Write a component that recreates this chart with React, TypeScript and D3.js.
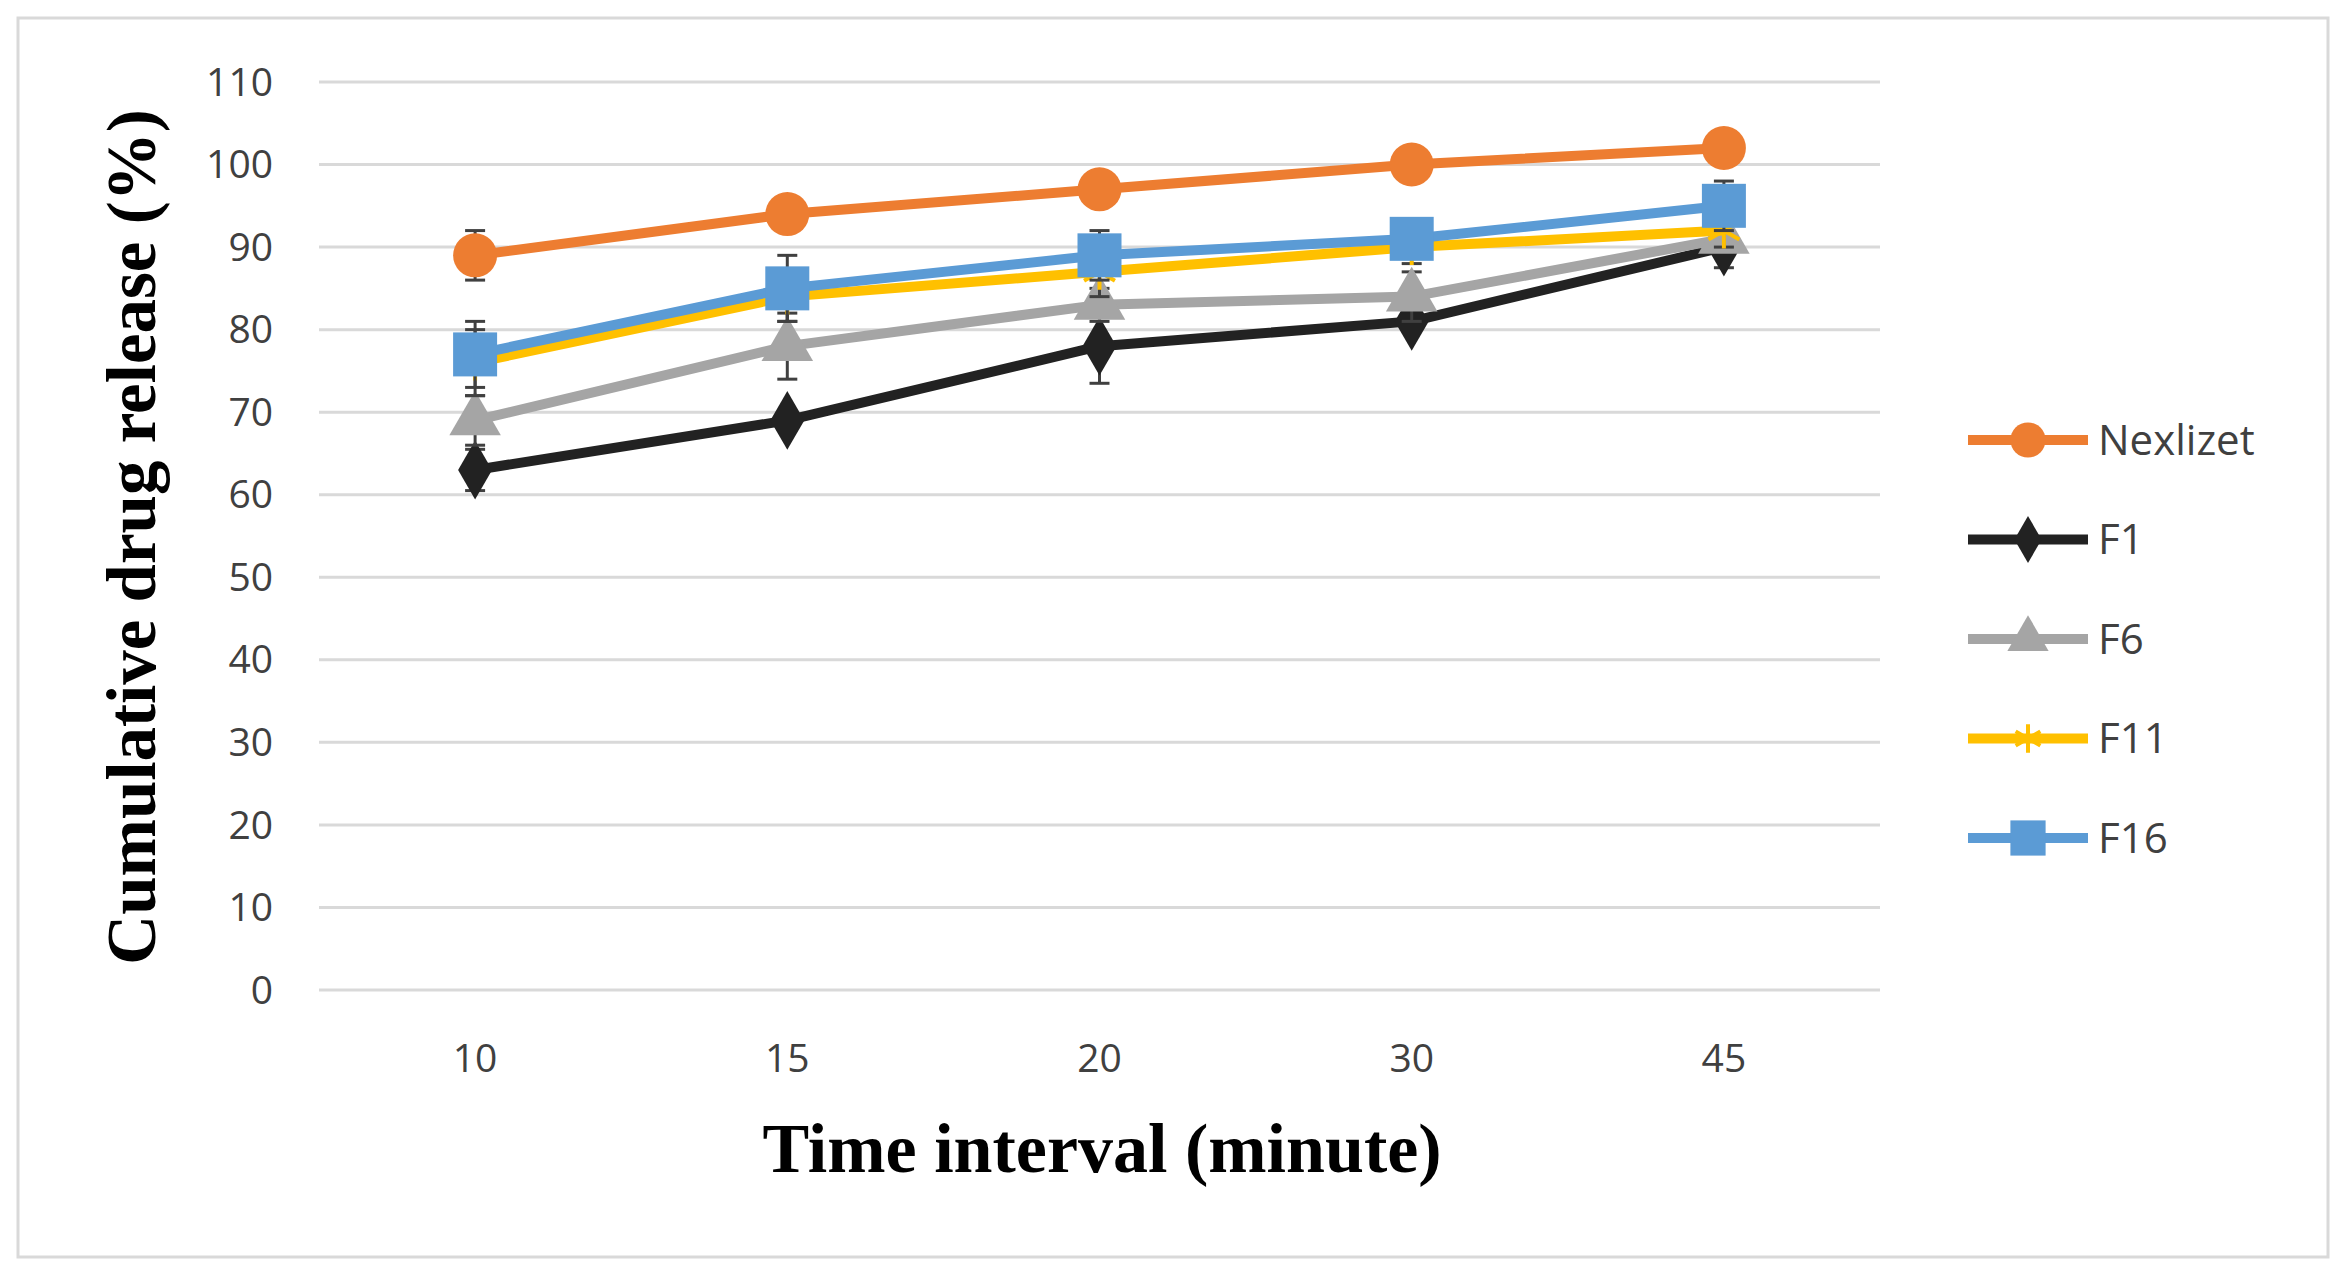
import * as d3 from "d3";
import React from "react";

const times = ["10", "15", "20", "30", "45"];
const seriesNames = ["Nexlizet", "F1", "F6", "F11", "F16"];
const colors = ["#ed7d31", "#222222", "#a5a5a5", "#ffc000", "#5b9bd5"];
const nexlizet = [89, 94, 97, 100, 102];
const f1 = [63, 69, 78, 81, 90];
const f6 = [69, 78, 83, 84, 91];
const f11 = [76, 84, 87, 90, 92];
const f16 = [77, 85, 89, 91, 95];
const errNexlizet = [3, 1, 1, 1, 2];
const errF1 = [2.5, 1, 4.5, 1, 2.5];
const errF6 = [3, 4, 2, 3, 1];
const errF11 = [4, 3, 3, 2, 2];
const errF16 = [4, 4, 3, 2, 3];
const yTicks = [0, 10, 20, 30, 40, 50, 60, 70, 80, 90, 100, 110];

const values = [nexlizet, f1, f6, f11, f16];
const errors = [errNexlizet, errF1, errF6, errF11, errF16];
const W = 2347, H = 1277;
const left = 319, right = 1880, top = 82, bottom = 990;

const x = d3.scaleBand().domain(times).range([left, right]);
const y = d3.scaleLinear().domain([0, 110]).range([bottom, top]);
const cx = (t: string) => x(t)! + x.bandwidth() / 2;

const Marker = ({ i, px, py, s = 1 }: { i: number; px: number; py: number; s?: number }) => {
  const c = colors[i];
  if (i === 0) return <circle cx={px} cy={py} r={22 * s} fill={c} />;
  if (i === 1) return <path d={d3.symbol(d3.symbolDiamond, 1000 * s * s)()!} transform={`translate(${px},${py})`} fill={c} />;
  if (i === 2) return <path d={d3.symbol(d3.symbolTriangle, 1150 * s * s)()!} transform={`translate(${px},${py})`} fill={c} />;
  if (i === 3) return <path d={d3.symbol(d3.symbolAsterisk, 900 * s * s)()!} transform={`translate(${px},${py})`} stroke={c} strokeWidth={4} fill="none" />;
  return <rect x={px - 22 * s} y={py - 22 * s} width={44 * s} height={44 * s} fill={c} />;
};

export default function App() {
  const line = d3.line<number>().x((_, j) => cx(times[j])).y((v) => y(v));
  return (
    <svg width={W} height={H} style={{ position: "absolute", left: 0, top: 0, background: "#fff" }}>
      <rect x={18} y={18} width={2310} height={1239} fill="#fff" stroke="#d9d9d9" strokeWidth={3} />
      {yTicks.map((t) => (
        <g key={t}>
          <line x1={left} x2={right} y1={y(t)} y2={y(t)} stroke="#d9d9d9" strokeWidth={3} />
          <text x={left - 46} y={y(t)} dy="0.35em" textAnchor="end" fontFamily="Open Sans" fontSize={39} fill="#404040">{t}</text>
        </g>
      ))}
      {times.map((t) => (
        <text key={t} x={cx(t)} y={1072} textAnchor="middle" fontFamily="Open Sans" fontSize={39} fill="#404040">{t}</text>
      ))}
      {values.map((vals, i) => (
        <g key={i}>
          {vals.map((v, j) => (
            <g key={j} stroke="#404040" strokeWidth={3}>
              <line x1={cx(times[j])} x2={cx(times[j])} y1={y(v - errors[i][j])} y2={y(v + errors[i][j])} />
              <line x1={cx(times[j]) - 10} x2={cx(times[j]) + 10} y1={y(v - errors[i][j])} y2={y(v - errors[i][j])} />
              <line x1={cx(times[j]) - 10} x2={cx(times[j]) + 10} y1={y(v + errors[i][j])} y2={y(v + errors[i][j])} />
            </g>
          ))}
          <path d={line(vals)!} fill="none" stroke={colors[i]} strokeWidth={10} strokeLinejoin="round" />
          {vals.map((v, j) => <Marker key={j} i={i} px={cx(times[j])} py={y(v)} />)}
        </g>
      ))}
      {seriesNames.map((n, i) => {
        const ly = 440 + i * 99.5;
        return (
          <g key={n}>
            <line x1={1968} x2={2088} y1={ly} y2={ly} stroke={colors[i]} strokeWidth={10} />
            <Marker i={i} px={2028} py={ly} s={0.8} />
            <text x={2098} y={ly} dy="0.35em" fontFamily="Open Sans" fontSize={42} fill="#404040">{n}</text>
          </g>
        );
      })}
      <text x={1102} y={1172} textAnchor="middle" fontFamily="Liberation Serif" fontWeight="bold" fontSize={70} fill="#000">Time interval (minute)</text>
      <text transform={`translate(155,537) rotate(-90)`} textAnchor="middle" fontFamily="Liberation Serif" fontWeight="bold" fontSize={69} fill="#000">Cumulative drug release (%)</text>
    </svg>
  );
}
